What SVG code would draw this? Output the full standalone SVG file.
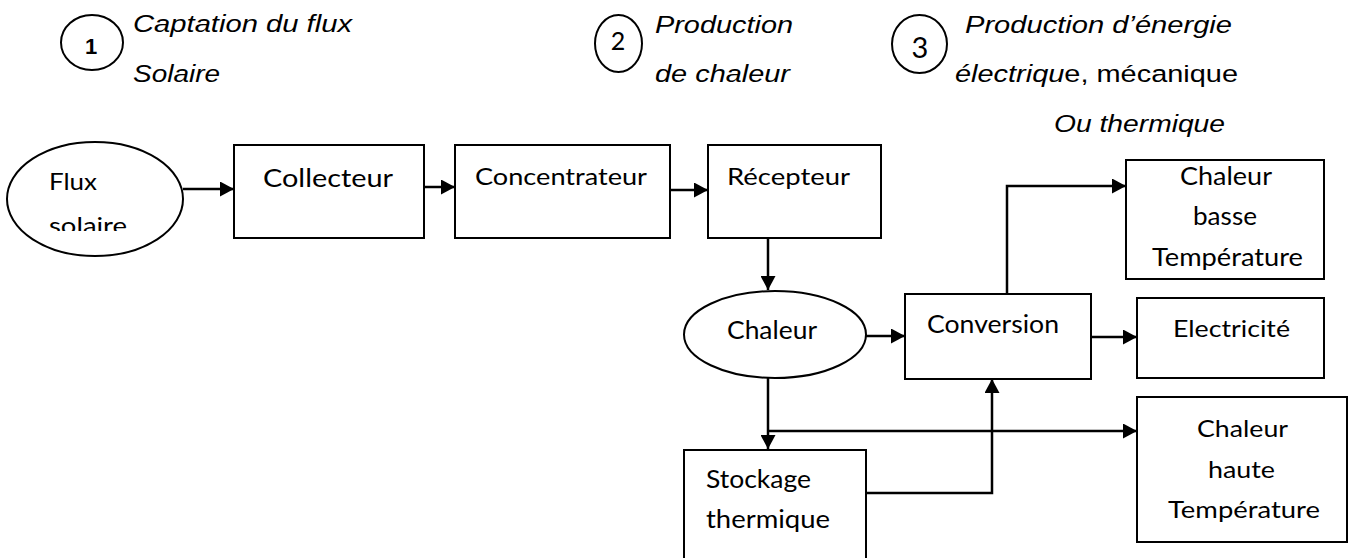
<svg xmlns="http://www.w3.org/2000/svg" width="1352" height="558" viewBox="0 0 1352 558">
<style>
.box{fill:#fff;stroke:#000;stroke-width:2}
.lbl{font-family:Lato,"Open Sans",sans-serif;fill:#000}
.cap{font-family:"Liberation Sans",Arial,sans-serif;font-style:italic;font-size:24.5px;fill:#000}
.conn path{fill:none;stroke:#000;stroke-width:2.5}
</style>
<defs>
<marker id="ah" markerUnits="userSpaceOnUse" markerWidth="15" markerHeight="15" refX="14" refY="7.5" orient="auto">
<path d="M0,0 L14,7.5 L0,15 z" fill="#000"/>
</marker>
<clipPath id="fluxclip"><rect x="0" y="140" width="200" height="91"/></clipPath>
</defs>
<rect width="1352" height="558" fill="#fff"/>

<g id="step1">
<ellipse class="box" cx="92" cy="42.5" rx="31" ry="27.5" stroke-width="1.6"/>
<text x="91" y="54" text-anchor="middle" font-family="'Liberation Sans',Arial,sans-serif" font-size="22" font-weight="bold">1</text>
<text class="cap" x="133" y="32" textLength="219" lengthAdjust="spacingAndGlyphs">Captation du flux</text>
<text class="cap" x="133" y="82" textLength="87" lengthAdjust="spacingAndGlyphs">Solaire</text>
</g>
<g id="step2">
<ellipse class="box" cx="618.5" cy="43.5" rx="23.5" ry="28.5" stroke-width="1.6"/>
<text class="lbl" x="618" y="50" text-anchor="middle" font-size="25">2</text>
<text class="cap" x="655" y="33" textLength="138" lengthAdjust="spacingAndGlyphs">Production</text>
<text class="cap" x="655" y="82" textLength="135" lengthAdjust="spacingAndGlyphs">de chaleur</text>
</g>
<g id="step3">
<ellipse class="box" cx="919.5" cy="44" rx="27.5" ry="29" stroke-width="1.6"/>
<text class="lbl" x="920" y="58" text-anchor="middle" font-size="29">3</text>
<text class="cap" x="965" y="33" textLength="267" lengthAdjust="spacingAndGlyphs">Production d’énergie</text>
<text class="cap" x="955" y="82" textLength="283" lengthAdjust="spacingAndGlyphs">électriqu<tspan font-style="normal">e, mécanique</tspan></text>
<text class="cap" x="1054" y="132" textLength="171" lengthAdjust="spacingAndGlyphs">Ou thermique</text>
</g>

<g class="conn" id="connectors">
<path d="M183,189 H234" marker-end="url(#ah)"/>
<path d="M424,187 H455" marker-end="url(#ah)"/>
<path d="M668,190 H708" marker-end="url(#ah)"/>
<path d="M768,228 V290" marker-end="url(#ah)"/>
<path d="M866,336 H905" marker-end="url(#ah)"/>
<path d="M1007,293 V186 H1126" marker-end="url(#ah)"/>
<path d="M1091,337 H1137" marker-end="url(#ah)"/>
<path d="M768,378 V449" marker-end="url(#ah)"/>
<path d="M768,431 H1137" marker-end="url(#ah)"/>
<path d="M866,493 H992 V379" marker-end="url(#ah)"/>
</g>

<g id="flux">
<ellipse class="box" cx="95" cy="199" rx="88" ry="57"/>
<text class="lbl" x="49" y="190" font-size="23" textLength="48" lengthAdjust="spacingAndGlyphs">Flux</text>
<text class="lbl" x="49" y="234" font-size="23" textLength="78" lengthAdjust="spacingAndGlyphs" clip-path="url(#fluxclip)">solaire</text>
</g>
<g id="collecteur">
<rect class="box" x="234" y="145" width="190" height="93"/>
<text class="lbl" x="263" y="187" font-size="25.5" textLength="130" lengthAdjust="spacingAndGlyphs">Collecteur</text>
</g>
<g id="concentrateur">
<rect class="box" x="455" y="145" width="215" height="93"/>
<text class="lbl" x="475" y="185" font-size="23" textLength="172" lengthAdjust="spacingAndGlyphs">Concentrateur</text>
</g>
<g id="recepteur">
<rect class="box" x="708" y="145" width="173" height="93"/>
<text class="lbl" x="727" y="185" font-size="23" textLength="123" lengthAdjust="spacingAndGlyphs">Récepteur</text>
</g>
<g id="chaleur">
<ellipse class="box" cx="775" cy="334.5" rx="91" ry="43.5"/>
<text class="lbl" x="727" y="339" font-size="25" textLength="90" lengthAdjust="spacingAndGlyphs">Chaleur</text>
</g>
<g id="conversion">
<rect class="box" x="905" y="294" width="186" height="85"/>
<text class="lbl" x="927" y="333" font-size="24.5" textLength="132" lengthAdjust="spacingAndGlyphs">Conversion</text>
</g>
<g id="chaleur-basse">
<rect class="box" x="1126" y="160" width="198" height="119"/>
<text class="lbl" x="1180" y="185" font-size="25" textLength="92" lengthAdjust="spacingAndGlyphs">Chaleur</text>
<text class="lbl" x="1193" y="225" font-size="25" textLength="64" lengthAdjust="spacingAndGlyphs">basse</text>
<text class="lbl" x="1152" y="266" font-size="25" textLength="151" lengthAdjust="spacingAndGlyphs">Température</text>
</g>
<g id="electricite">
<rect class="box" x="1137" y="298" width="187" height="80"/>
<text class="lbl" x="1173" y="337" font-size="23" textLength="117" lengthAdjust="spacingAndGlyphs">Electricité</text>
</g>
<g id="chaleur-haute">
<rect class="box" x="1137" y="397" width="210" height="145"/>
<text class="lbl" x="1197" y="437" font-size="23.5" textLength="91" lengthAdjust="spacingAndGlyphs">Chaleur</text>
<text class="lbl" x="1208" y="478" font-size="23.5" textLength="67" lengthAdjust="spacingAndGlyphs">haute</text>
<text class="lbl" x="1168" y="518" font-size="23.5" textLength="152" lengthAdjust="spacingAndGlyphs">Température</text>
</g>
<g id="stockage">
<rect class="box" x="684" y="450" width="182" height="130"/>
<text class="lbl" x="706" y="488" font-size="24.5" textLength="105" lengthAdjust="spacingAndGlyphs">Stockage</text>
<text class="lbl" x="706" y="528" font-size="24.5" textLength="124" lengthAdjust="spacingAndGlyphs">thermique</text>
</g>
</svg>
